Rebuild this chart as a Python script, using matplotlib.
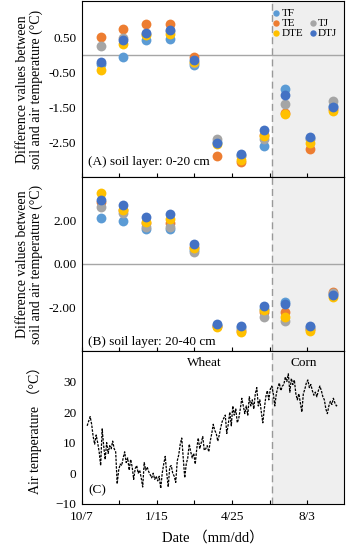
import numpy as np
import matplotlib
matplotlib.use('Agg')
import matplotlib.pyplot as plt
from matplotlib.lines import Line2D

plt.rcParams['font.family'] = ['Liberation Serif', 'DejaVu Serif', 'Noto Sans CJK SC']
plt.rcParams['font.size'] = 9.5

# sampling days (days after 10/7)
samp_days = [25, 55, 86, 118, 150, 180, 212, 243, 271, 304, 335]
series = ['TF', 'TE', 'TJ', 'DTE', 'DTJ']
colors = {'TF': '#5B9BD5', 'TE': '#ED7D31', 'TJ': '#A5A5A5',
          'DTE': '#FFC000', 'DTJ': '#4472C4'}

# (A) soil layer 0-20 cm: soil minus air temperature
a_TF  = [-0.25, -0.04, 0.44, 0.47, -0.27, -2.50, -2.88, -2.62, -0.97, -2.38, -1.45]
a_TE  = [0.52, 0.76, 0.88, 0.88, -0.04, -2.89, -3.08, -2.30, -1.66, -2.70, -1.55]
a_TJ  = [0.25, 0.50, 0.60, 0.68, -0.23, -2.42, -2.90, -2.40, -1.40, -2.40, -1.32]
a_DTE = [-0.44, 0.31, 0.57, 0.60, -0.20, -2.55, -3.00, -2.31, -1.68, -2.52, -1.61]
a_DTJ = [-0.20, 0.42, 0.64, 0.73, -0.13, -2.53, -2.85, -2.16, -1.14, -2.36, -1.50]

# (B) soil layer 20-40 cm
b_TF  = [2.10, 2.00, 1.60, 1.60, 0.65, -2.80, -2.90, -2.05, -1.74, -2.90, -1.40]
b_TE  = [2.85, 2.50, 1.90, 1.90, 0.80, -2.85, -3.10, -2.20, -2.20, -3.00, -1.28]
b_TJ  = [2.64, 2.33, 1.69, 1.72, 0.57, -2.85, -3.00, -2.43, -2.61, -3.00, -1.35]
b_DTE = [3.29, 2.49, 1.95, 2.07, 0.75, -2.89, -3.13, -2.12, -2.43, -3.10, -1.53]
b_DTJ = [2.95, 2.72, 2.18, 2.29, 0.92, -2.76, -2.86, -1.94, -1.84, -2.86, -1.43]

# (C) air temperature, read every second day from day 7
air_days = list(range(7, 342, 2))
air_temp = [15.5, 17, 18.5, 16, 12, 9.5, 12.5, 10, 7, 2.5, 14.5, 9, 4.5, 10, 6.5,
            9, 8, 10.5, 8, 7, -3.5, 1, 3, 2.5, 5, 7, 3.5, 5, 1, 4.5, 2, -2, 1.5,
            2.5, 0, 1, -1.5, -4.5, 3.5, 1, 2, 0.5, -0.5, -1.5, 0, -2, -1, -2.5,
            -1, -5, 0, 3, 5.5, 0, -4.5, 2, 2.5, 0, -1, -3, 4, 6, 9.5, 11.5, 5,
            -1.5, 3, 5, 9.5, 7, 5, 6.5, 3, 8, 11.5, 8, 10, 12, 7.5, 8, 9, 7,
            10.5, 13, 16, 14, 13, 10.5, 12.5, 15, 17, 18, 19, 13, 16, 20, 15.5,
            22, 19, 21, 16.5, 18, 21, 24.5, 22, 19.5, 22, 19, 25, 22, 24, 21,
            26, 28, 22, 24, 20, 16.5, 21, 25, 27, 24, 27.5, 28.5, 26, 22, 26,
            28, 29.5, 27, 28.5, 29, 31.5, 30, 32.5, 26.5, 31, 29, 30.5, 26, 24,
            26, 23, 20, 26, 27.5, 29.5, 30.5, 28, 29, 27, 25.5, 26.5, 25, 27,
            28.5, 27, 25, 24, 21, 19.5, 22, 23.5, 22.5, 24.5, 23, 22, 22.5]

tick_days = [0, 50, 100, 150, 200, 250, 300]
tick_labels = ['10/7', '', '1/15', '', '4/25', '', '8/3']
corn_start = 253
x_max = 349

fig = plt.figure(figsize=(3.47, 5.5), dpi=100)
L, W = 0.236, 0.755
axA = fig.add_axes([L, 0.678, W, 0.320])
axB = fig.add_axes([L, 0.362, W, 0.316])
axC = fig.add_axes([L, 0.084, W, 0.278])

for ax in (axA, axB, axC):
    ax.set_xlim(0, x_max)
    ax.axvspan(corn_start, x_max, color='#EFEFEF', zorder=0, lw=0)
    ax.axvline(corn_start, color='#999999', ls=(0, (5, 3)), lw=1, zorder=1)
    ax.set_xticks(tick_days)
    ax.tick_params(axis='x', direction='in', length=3, width=0.8)
    ax.tick_params(axis='y', length=0, pad=4)
    for s in ax.spines.values():
        s.set_linewidth(0.8)

ylab = 'Difference values between\nsoil and air temperature (\u00b0C)'

def scatter_panel(ax, vals):
    ax.axhline(0, color='#A6A6A6', lw=1, zorder=1)
    for name, v in zip(series, vals):
        ax.scatter(samp_days, v, s=50, color=colors[name], label=name,
                   zorder=3, lw=0)
    ax.set_xticklabels([])
    ax.set_ylabel(ylab, labelpad=4, linespacing=1.1, fontsize=10)

scatter_panel(axA, [a_TF, a_TE, a_TJ, a_DTE, a_DTJ])
axA.set_ylim(-3.5, 1.55)
axA.set_yticks([-2.5, -1.5, -0.5, 0.5])
axA.set_yticklabels(['-2.50', '-1.50', '-0.50', '0.50'])
axA.text(8, -3.15, '(A) soil layer: 0-20 cm', fontsize=9.5)

hs = {h.get_label(): h for h in axA.collections}
blank = Line2D([], [], ls='none', marker=None)
handles = [hs['TF'], hs['TE'], hs['DTE'], blank, hs['TJ'], hs['DTJ']]
labels = ['TF', 'TE', 'DTE', '', 'TJ', 'DTJ']
axA.legend(handles, labels, ncol=2, loc='upper right', frameon=False,
           fontsize=8, markerscale=0.65, handletextpad=0.05, columnspacing=0.35,
           labelspacing=0.05, borderaxespad=0.2, handlelength=0.9,
           bbox_to_anchor=(1.0, 1.0))

scatter_panel(axB, [b_TF, b_TE, b_TJ, b_DTE, b_DTJ])
axB.set_ylim(-4, 4)
axB.set_yticks([-2, 0, 2])
axB.set_yticklabels(['-2.00', '0.00', '2.00'])
axB.text(8, -3.75, '(B) soil layer: 20-40 cm', fontsize=9.5)

axC.plot(air_days, air_temp, color='black', lw=0.9, ls=(0, (2, 1)), zorder=3)
axC.set_ylim(-10, 40)
axC.set_yticks([-10, 0, 10, 20, 30])
axC.set_xticklabels(tick_labels)
axC.tick_params(axis='x', pad=5)
axC.set_ylabel('Air temperature \uff08\u00b0C\uff09', labelpad=10, fontsize=10)
axC.set_xlabel('Date \uff08mm/dd\uff09', labelpad=6, fontsize=10.5)
axC.text(163, 36, 'Wheat', ha='center', va='center')
axC.text(296, 36, 'Corn', ha='center', va='center')
axC.text(8, -5.5, '(C)', va='center')

fig.savefig('out.png', dpi=100)
